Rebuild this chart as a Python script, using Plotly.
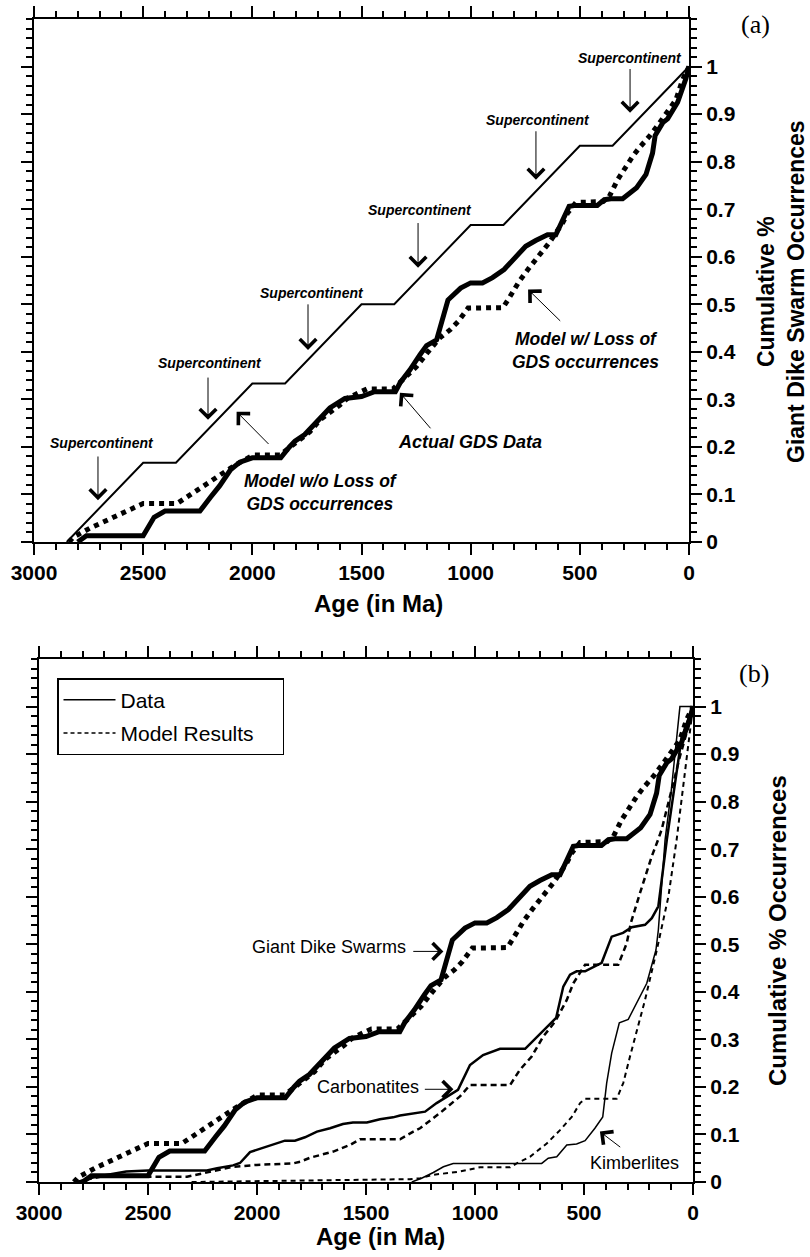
import plotly.graph_objects as go

# ---------------- data ----------------
# Supercontinent staircase model (model w/o loss of GDS occurrences)
super_age = [2850, 2500, 2350, 2000, 1850, 1500, 1350, 1000, 850, 500, 350, 0]
super_val = [0, 1/6, 1/6, 2/6, 2/6, 3/6, 3/6, 4/6, 4/6, 5/6, 5/6, 1.0]

# Actual GDS data
gds_age = [2800, 2760, 2500, 2450, 2400, 2240, 2190, 2150, 2100, 2057, 2000, 1870, 1830, 1805,
           1760, 1713, 1645, 1576, 1500, 1440, 1345, 1323, 1278, 1232, 1202, 1156, 1127, 1104,
           1046, 1000, 946, 900, 847, 801, 748, 702, 648, 610, 549, 518, 420, 388, 358, 304,
           240, 197, 167, 155, 120, 98, 52, 14, 0]
gds_val = [0, 0.013, 0.013, 0.052, 0.065, 0.065, 0.095, 0.118, 0.152, 0.168, 0.177, 0.177, 0.2, 0.212,
           0.226, 0.25, 0.282, 0.302, 0.306, 0.316, 0.316, 0.335, 0.362, 0.394, 0.413, 0.425, 0.467, 0.509,
           0.534, 0.545, 0.545, 0.556, 0.573, 0.597, 0.622, 0.634, 0.646, 0.646, 0.706, 0.708, 0.708, 0.72, 0.722, 0.722,
           0.745, 0.773, 0.818, 0.855, 0.882, 0.89, 0.925, 0.975, 1.0]

# Model with loss of GDS occurrences
gdsm_age = [2840, 2820, 2744, 2652, 2560, 2515, 2500, 2345, 2300, 2240, 2180, 2134, 2088, 2034,
            1997, 1873, 1828, 1782, 1736, 1690, 1645, 1599, 1562, 1507, 1475, 1355, 1310, 1248,
            1195, 1140, 1095, 1057, 1012, 852, 824, 778, 733, 687, 641, 610, 579, 556, 530, 518,
            393, 365, 327, 289, 258, 228, 182, 136, 90, 60, 29, 0]
gdsm_val = [0, 0.01, 0.029, 0.048, 0.067, 0.078, 0.081, 0.081, 0.095, 0.113, 0.13, 0.145, 0.159, 0.173,
            0.183, 0.183, 0.2, 0.215, 0.232, 0.257, 0.271, 0.288, 0.303, 0.316, 0.322, 0.322, 0.341, 0.369,
            0.40, 0.43, 0.446, 0.464, 0.492, 0.493, 0.513, 0.548, 0.576, 0.601, 0.629, 0.65, 0.671, 0.692, 0.71, 0.714,
            0.716, 0.727, 0.762, 0.79, 0.811, 0.829, 0.853, 0.881, 0.909, 0.93, 0.973, 1.0]

# Carbonatites data / model
carb_age = [2820, 2750, 2600, 2500, 2230, 2183, 2110, 2078, 2032, 1972, 1926, 1872, 1826, 1780,
            1725, 1665, 1606, 1560, 1496, 1436, 1376, 1344, 1229, 1176, 1078, 1023, 963, 885,
            770, 720, 628, 595, 564, 534, 495, 419, 373, 321, 281, 220, 189, 159, 120, 52, 0]
carb_val = [0, 0.01, 0.022, 0.024, 0.024, 0.029, 0.035, 0.04, 0.063, 0.072, 0.078, 0.087, 0.087, 0.094,
            0.106, 0.113, 0.122, 0.125, 0.125, 0.132, 0.136, 0.14, 0.148, 0.166, 0.194, 0.246, 0.267, 0.28,
            0.28, 0.303, 0.345, 0.411, 0.436, 0.443, 0.443, 0.461, 0.516, 0.524, 0.536, 0.541, 0.555, 0.58, 0.72, 0.935, 1.0]

carbm_age = [2830, 2720, 2321, 2231, 2109, 2001, 1835, 1800, 1757, 1650, 1573, 1528, 1344, 1283,
             1252, 1161, 1069, 1023, 839, 794, 740, 687, 633, 579, 549, 495, 343, 304, 285, 243,
             189, 160, 144, 98, 60, 21, 0]
carbm_val = [0, 0.011, 0.011, 0.02, 0.032, 0.036, 0.039, 0.043, 0.051, 0.064, 0.078, 0.09, 0.09, 0.106,
             0.113, 0.145, 0.18, 0.204, 0.204, 0.236, 0.264, 0.306, 0.337, 0.383, 0.418, 0.457, 0.457, 0.502, 0.545, 0.608,
             0.685, 0.72, 0.741, 0.825, 0.895, 0.958, 1.0]

# Kimberlites data / model
kimb_age = [1290, 1245, 1191, 1145, 1100, 694, 664, 625, 579, 534, 495, 450, 414, 396, 373, 338,
            297, 251, 212, 170, 159, 128, 101, 60, 0]
kimb_val = [0, 0.008, 0.02, 0.032, 0.039, 0.039, 0.05, 0.053, 0.078, 0.08, 0.087, 0.113, 0.137, 0.208, 0.271, 0.335,
            0.342, 0.383, 0.418, 0.488, 0.53, 0.72, 0.818, 1.0, 1.0]

kimbm_age = [2300, 1500, 1300, 1250, 1193, 1069, 977, 839, 809, 748, 671, 610, 556, 518, 495, 350,
             320, 289, 251, 220, 166, 113, 75, 40, 0]
kimbm_val = [0, 0.004, 0.006, 0.008, 0.015, 0.022, 0.031, 0.031, 0.039, 0.053, 0.081, 0.109, 0.137, 0.166, 0.175, 0.175,
             0.208, 0.264, 0.327, 0.383, 0.488, 0.6, 0.72, 0.85, 1.0]

x_ticks = [3000, 2500, 2000, 1500, 1000, 500, 0]
y_ticks = [0, 0.1, 0.2, 0.3, 0.4, 0.5, 0.6, 0.7, 0.8, 0.9, 1.0]
y_ticktext = ["0", "0.1", "0.2", "0.3", "0.4", "0.5", "0.6", "0.7", "0.8", "0.9", "1"]

# ---------------- figure ----------------
W, H = 810, 1257
fig = go.Figure()

def add_line(x, y, xa, ya, width, dash="solid"):
    fig.add_trace(go.Scatter(x=x, y=y, xaxis=xa, yaxis=ya, mode="lines",
                             line=dict(color="black", width=width, dash=dash),
                             showlegend=False, hoverinfo="skip"))

# panel (a)
add_line(super_age, super_val, "x", "y", 2)
add_line(gdsm_age, gdsm_val, "x", "y", 5, "dot")
add_line(gds_age, gds_val, "x", "y", 5)

# panel (b)
add_line(kimbm_age, kimbm_val, "x2", "y2", 2, "5px,4px")
add_line(kimb_age, kimb_val, "x2", "y2", 1.5)
add_line(carbm_age, carbm_val, "x2", "y2", 2.5, "6px,4px")
add_line(carb_age, carb_val, "x2", "y2", 2.5)
add_line(gdsm_age, gdsm_val, "x2", "y2", 5, "dot")
add_line(gds_age, gds_val, "x2", "y2", 5)
# legend entries
fig.add_trace(go.Scatter(x=[None], y=[None], xaxis="x2", yaxis="y2", mode="lines",
                         line=dict(color="black", width=1.5), name="Data",
                         legendgroup="a", showlegend=True))
fig.add_trace(go.Scatter(x=[None], y=[None], xaxis="x2", yaxis="y2", mode="lines",
                         line=dict(color="black", width=1.5, dash="4px,3px"),
                         name="Model Results&nbsp;&nbsp;&nbsp;&nbsp;",
                         legendgroup="b", showlegend=True))

tickfont = dict(family="Arial", size=21, color="black", weight="bold")

def xaxis_cfg(domain, anchor):
    return dict(domain=domain, anchor=anchor, range=[3000, 0], tickmode="array", tickvals=x_ticks,
                ticks="outside", ticklen=11, tickwidth=2, tickcolor="black",
                showline=True, linewidth=2, linecolor="black", mirror="ticks",
                showgrid=False, zeroline=False, tickfont=tickfont, automargin=False,
                minor=dict(dtick=100, tick0=0, ticks="outside", ticklen=6, tickwidth=2,
                           tickcolor="black", showgrid=False))

def yaxis_cfg(domain, anchor):
    return dict(domain=domain, anchor=anchor, range=[0, 1.1], side="right", tickmode="array",
                tickvals=y_ticks, ticktext=y_ticktext,
                ticks="outside", ticklen=11, tickwidth=2, tickcolor="black",
                showline=True, linewidth=2, linecolor="black", mirror="ticks",
                showgrid=False, zeroline=False, tickfont=tickfont, automargin=False,
                minor=dict(dtick=0.02, tick0=0, ticks="outside", ticklen=6, tickwidth=2,
                           tickcolor="black", showgrid=False))

fig.update_layout(
    width=W, height=H, autosize=False,
    margin=dict(l=0, r=0, t=0, b=0, pad=0, autoexpand=False),
    paper_bgcolor="white", plot_bgcolor="white",
    xaxis=xaxis_cfg([34 / W, 689 / W], "y"),
    yaxis=yaxis_cfg([1 - 542 / H, 1 - 19 / H], "x"),
    xaxis2=xaxis_cfg([39 / W, 693 / W], "y2"),
    yaxis2=yaxis_cfg([1 - 1182 / H, 1 - 659 / H], "x2"),
    showlegend=True,
    legend=dict(x=57 / W, y=1 - 678 / H, xanchor="left", yanchor="top",
                bordercolor="black", borderwidth=1.5, bgcolor="white",
                font=dict(family="Arial", size=21, color="black"),
                traceorder="grouped", tracegroupgap=3, itemwidth=52),
)

ann = []
def text_ann(x, y, text, size, xref="x", yref="y", italic=True, bold=True, angle=0, family="Arial"):
    style = "italic" if italic else "normal"
    ann.append(dict(x=x, y=y, xref=xref, yref=yref, text=text, showarrow=False,
                    textangle=angle, xanchor="center", yanchor="middle",
                    font=dict(family=family, size=size, color="black", style=style,
                              weight="bold" if bold else "normal")))

def arrow(xt, yt, xh, yh, xref="x", yref="y"):
    ann.append(dict(x=xh, y=yh, ax=xt, ay=yt, xref=xref, yref=yref, axref=xref, ayref=yref,
                    text="", showarrow=True, arrowhead=4, arrowsize=3.2, arrowwidth=1,
                    arrowcolor="black", standoff=0))

# panel (a) supercontinent labels
sc = [(2689, 0.208, 2707, 0.183, 0.088),
      (2194, 0.377, 2203, 0.349, 0.257),
      (1727, 0.524, 1745, 0.503, 0.404),
      (1232, 0.699, 1241, 0.674, 0.577),
      (692, 0.888, 701, 0.867, 0.762),
      (270, 1.019, 270, 0.998, 0.903)]
for tx, ty, axx, ay0, ay1 in sc:
    text_ann(tx, ty, "Supercontinent", 14)
    arrow(axx, ay0, axx, ay1)

text_ann(472, 0.402, "Model w/ Loss of<br>GDS occurrences", 17.5)
arrow(583, 0.462, 737, 0.531)
text_ann(1003, 0.2105, "Actual GDS Data", 18)
arrow(1178, 0.236, 1324, 0.314)
text_ann(1686, 0.105, "Model w/o Loss of<br>GDS occurrences", 17.5)
arrow(1919, 0.203, 2072, 0.274)

# panel (b) labels
text_ann(1670, 0.495, "Giant Dike Swarms", 18, "x2", "y2", italic=False, bold=False)
arrow(1290, 0.485, 1145, 0.485, "x2", "y2")
text_ann(1491, 0.20, "Carbonatites", 18, "x2", "y2", italic=False, bold=False)
arrow(1237, 0.195, 1099, 0.195, "x2", "y2")
text_ann(268, 0.039, "Kimberlites", 18, "x2", "y2", italic=False, bold=False)
arrow(327, 0.071, 427, 0.106, "x2", "y2")

# axis titles and panel letters (paper coords)
text_ann(378 / W, 1 - 603 / H, "Age (in Ma)", 24, "paper", "paper", italic=False)
text_ann(380 / W, 1 - 1236 / H, "Age (in Ma)", 24, "paper", "paper", italic=False)
text_ann(781 / W, 1 - 292 / H, "Cumulative %<br>Giant Dike Swarm Occurrences", 23, "paper", "paper",
         italic=False, angle=-90)
text_ann(778 / W, 1 - 931 / H, "Cumulative % Occurrences", 24, "paper", "paper", italic=False, angle=-90)
text_ann(755 / W, 1 - 25 / H, "(a)", 26, "paper", "paper", italic=False, bold=False,
         family="Liberation Serif")
text_ann(754 / W, 1 - 673 / H, "(b)", 26, "paper", "paper", italic=False, bold=False,
         family="Liberation Serif")

fig.update_layout(annotations=ann)
fig.write_html("out.html", config={"displayModeBar": False},
               post_script="document.body.style.margin='0';document.body.style.overflow='hidden';")
